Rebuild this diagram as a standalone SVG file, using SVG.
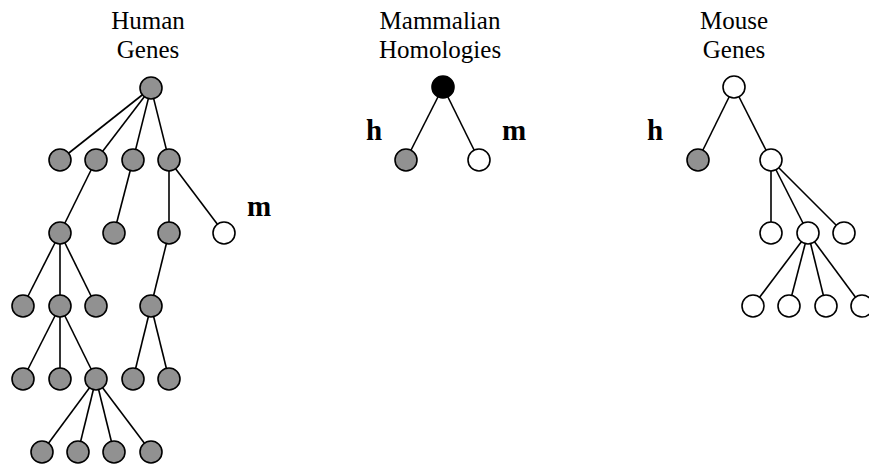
<svg xmlns="http://www.w3.org/2000/svg" width="869" height="466" viewBox="0 0 869 466">
<style>
.t{font-family:"Liberation Serif","Times New Roman",serif;font-size:25px;fill:#000;text-anchor:middle}
.b{font-family:"Liberation Serif","Times New Roman",serif;font-size:29px;font-weight:bold;fill:#000;text-anchor:middle}
.e line{stroke:#000;stroke-width:1.6}
.g{fill:#919191;stroke:#000;stroke-width:1.6}
.w{fill:#fff;stroke:#000;stroke-width:1.6}
.k{fill:#000;stroke:#000;stroke-width:1.6}
</style>
<rect width="869" height="466" fill="#fff"/>
<g id="titles">
<text class="t" x="148" y="29">Human</text>
<text class="t" x="148" y="58">Genes</text>
<text class="t" x="440" y="29">Mammalian</text>
<text class="t" x="440" y="58">Homologies</text>
<text class="t" x="734" y="29">Mouse</text>
<text class="t" x="734" y="58">Genes</text>
</g>
<g id="labels">
<text class="b" x="259" y="216">m</text>
<text class="b" x="374" y="140">h</text>
<text class="b" x="514" y="140">m</text>
<text class="b" x="655" y="140">h</text>
</g>
<g id="connectors" class="e">
<line x1="151" y1="88" x2="60" y2="160"/>
<line x1="151" y1="88" x2="96" y2="160"/>
<line x1="151" y1="88" x2="133" y2="160"/>
<line x1="151" y1="88" x2="169" y2="160"/>
<line x1="96" y1="160" x2="60" y2="233"/>
<line x1="133" y1="160" x2="114" y2="233"/>
<line x1="169" y1="160" x2="169" y2="233"/>
<line x1="169" y1="160" x2="224" y2="233"/>
<line x1="60" y1="233" x2="23" y2="306"/>
<line x1="60" y1="233" x2="60" y2="306"/>
<line x1="60" y1="233" x2="96" y2="306"/>
<line x1="169" y1="233" x2="151" y2="306"/>
<line x1="60" y1="306" x2="23" y2="379"/>
<line x1="60" y1="306" x2="60" y2="379"/>
<line x1="60" y1="306" x2="96" y2="379"/>
<line x1="151" y1="306" x2="133" y2="379"/>
<line x1="151" y1="306" x2="169" y2="379"/>
<line x1="96" y1="379" x2="42" y2="452"/>
<line x1="96" y1="379" x2="78" y2="452"/>
<line x1="96" y1="379" x2="114" y2="452"/>
<line x1="96" y1="379" x2="151" y2="452"/>
<line x1="443" y1="87" x2="406" y2="160"/>
<line x1="443" y1="87" x2="479" y2="160"/>
<line x1="734" y1="87" x2="698" y2="160"/>
<line x1="734" y1="87" x2="771" y2="160"/>
<line x1="771" y1="160" x2="771" y2="233"/>
<line x1="771" y1="160" x2="808" y2="233"/>
<line x1="771" y1="160" x2="844" y2="233"/>
<line x1="808" y1="233" x2="753" y2="306"/>
<line x1="808" y1="233" x2="789" y2="306"/>
<line x1="808" y1="233" x2="826" y2="306"/>
<line x1="808" y1="233" x2="862" y2="306"/>
</g>
<g id="human">
<g id="h0"><circle class="g" cx="151" cy="88" r="11"/></g>
<g id="h1a"><circle class="g" cx="60" cy="160" r="11"/></g>
<g id="h1b"><circle class="g" cx="96" cy="160" r="11"/></g>
<g id="h1c"><circle class="g" cx="133" cy="160" r="11"/></g>
<g id="h1d"><circle class="g" cx="169" cy="160" r="11"/></g>
<g id="h2a"><circle class="g" cx="60" cy="233" r="11"/></g>
<g id="h2b"><circle class="g" cx="114" cy="233" r="11"/></g>
<g id="h2c"><circle class="g" cx="169" cy="233" r="11"/></g>
<g id="h2d"><circle class="w" cx="224" cy="233" r="11"/></g>
<g id="h3a"><circle class="g" cx="23" cy="306" r="11"/></g>
<g id="h3b"><circle class="g" cx="60" cy="306" r="11"/></g>
<g id="h3c"><circle class="g" cx="96" cy="306" r="11"/></g>
<g id="h3d"><circle class="g" cx="151" cy="306" r="11"/></g>
<g id="h4a"><circle class="g" cx="23" cy="379" r="11"/></g>
<g id="h4b"><circle class="g" cx="60" cy="379" r="11"/></g>
<g id="h4c"><circle class="g" cx="96" cy="379" r="11"/></g>
<g id="h4d"><circle class="g" cx="133" cy="379" r="11"/></g>
<g id="h4e"><circle class="g" cx="169" cy="379" r="11"/></g>
<g id="h5a"><circle class="g" cx="42" cy="452" r="11"/></g>
<g id="h5b"><circle class="g" cx="78" cy="452" r="11"/></g>
<g id="h5c"><circle class="g" cx="114" cy="452" r="11"/></g>
<g id="h5d"><circle class="g" cx="151" cy="452" r="11"/></g>
</g>
<g id="mammal">
<g id="m0"><circle class="k" cx="443" cy="87" r="11"/></g>
<g id="m1"><circle class="g" cx="406" cy="160" r="11"/></g>
<g id="m2"><circle class="w" cx="479" cy="160" r="11"/></g>
</g>
<g id="mouse">
<g id="u0"><circle class="w" cx="734" cy="87" r="11"/></g>
<g id="u1a"><circle class="g" cx="698" cy="160" r="11"/></g>
<g id="u1b"><circle class="w" cx="771" cy="160" r="11"/></g>
<g id="u2a"><circle class="w" cx="771" cy="233" r="11"/></g>
<g id="u2b"><circle class="w" cx="808" cy="233" r="11"/></g>
<g id="u2c"><circle class="w" cx="844" cy="233" r="11"/></g>
<g id="u3a"><circle class="w" cx="753" cy="306" r="11"/></g>
<g id="u3b"><circle class="w" cx="789" cy="306" r="11"/></g>
<g id="u3c"><circle class="w" cx="826" cy="306" r="11"/></g>
<g id="u3d"><circle class="w" cx="862" cy="306" r="11"/></g>
</g>
</svg>
